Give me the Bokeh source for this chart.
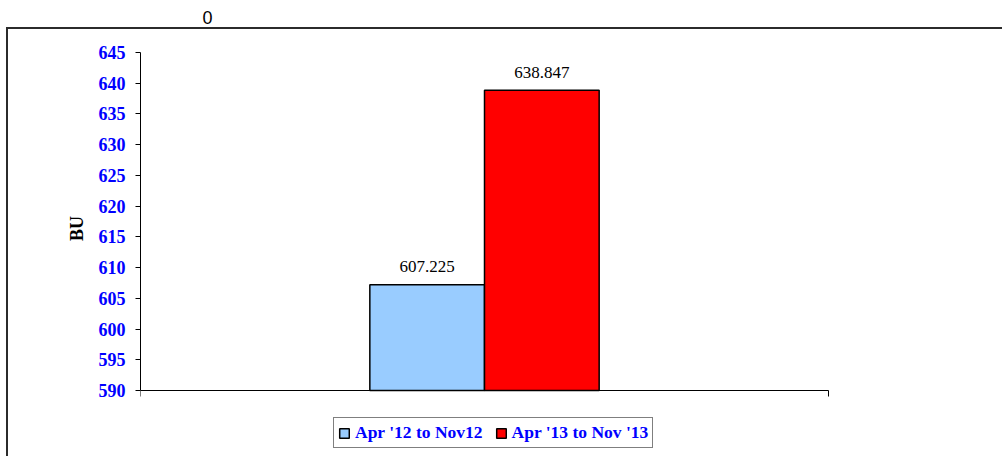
from bokeh.plotting import figure
from bokeh.models import ColumnDataSource, Range1d, FixedTicker, Legend, LegendItem, Label
from bokeh.embed import file_html
from bokeh.resources import INLINE

# data
series = ["Apr '12 to Nov12", "Apr '13 to Nov '13"]
values = [607.225, 638.847]
colors = ["#99CCFF", "#FF0000"]
value_labels = ["607.225", "638.847"]
y_ticks = [590, 595, 600, 605, 610, 615, 620, 625, 630, 635, 640, 645]
y_title = "BU"
corner_text = "0"

# layout geometry (pixels)
W, H = 1002, 456
axis_left, axis_right = 140, 828        # x extent of the value axis
axis_top, axis_bottom = 52, 390          # y of the top / bottom tick

px_per_unit = (axis_bottom - axis_top) / (y_ticks[-1] - y_ticks[0])
y0 = y_ticks[0] - (H - axis_bottom) / px_per_unit
y1 = y_ticks[-1] + axis_top / px_per_unit
x1 = (W - axis_left) / (axis_right - axis_left)

bar_w = 1 / 6
xs = [0.5 + (i - (len(series) - 1) / 2) * bar_w for i in range(len(series))]

src = ColumnDataSource(dict(x=xs, top=values, color=colors, name=series, lab=value_labels))

p = figure(width=W, height=H, output_backend="svg", toolbar_location=None,
           x_range=Range1d(0, x1), y_range=Range1d(y0, y1),
           min_border_left=axis_left, min_border_right=0, min_border_top=0, min_border_bottom=0)
p.outline_line_color = None
p.xgrid.visible = False
p.ygrid.visible = False
p.border_fill_color = None
p.background_fill_color = None
p.styles = {
    "background": ("linear-gradient(#2b2b2b,#2b2b2b) 6px 27px / 3000px 2px no-repeat, "
                   "linear-gradient(#2b2b2b,#2b2b2b) 6px 27px / 2px 3000px no-repeat, white"),
}

r = p.vbar(x="x", top="top", bottom=y_ticks[0], width=bar_w, fill_color="color",
           line_color="black", line_width=1.5, source=src)

p.text(x="x", y="top", text="lab", source=src, text_align="center", text_baseline="alphabetic",
       y_offset=-18, text_font="Liberation Serif", text_font_size="17px", text_color="black")

serif = "Liberation Serif"
ya = p.yaxis[0]
ya.ticker = FixedTicker(ticks=y_ticks)
ya.bounds = (y_ticks[0], y_ticks[-1])
ya.major_tick_out = 5
ya.major_tick_in = 0
ya.minor_tick_line_color = None
ya.major_label_standoff = 10
ya.major_label_text_font = serif
ya.major_label_text_font_style = "bold"
ya.major_label_text_font_size = "18px"
ya.major_label_text_color = "#0000FF"
ya.axis_label = y_title
ya.axis_label_text_font = serif
ya.axis_label_text_font_style = "bold"
ya.axis_label_text_font_size = "18px"
ya.axis_label_text_color = "black"
ya.axis_label_standoff = 9
ya.axis_line_color = "black"
ya.major_tick_line_color = "black"

xa = p.xaxis[0]
xa.ticker = FixedTicker(ticks=[0, 1])
xa.bounds = (0, 1)
xa.fixed_location = y_ticks[0]
xa.major_tick_out = 6
xa.major_tick_in = 0
xa.minor_tick_line_color = None
xa.major_label_overrides = {0: "", 1: ""}
xa.axis_line_color = "black"
xa.major_tick_line_color = "black"

items = [LegendItem(label=series[i], renderers=[r], index=i) for i in range(len(series))]
lg = Legend(items=items, orientation="horizontal", location=(333 - axis_left, H - 448))
lg.padding = 4
lg.margin = 0
lg.spacing = 12
lg.label_standoff = 5
lg.glyph_width = 12
lg.glyph_height = 12
lg.label_height = 16
lg.label_text_font = serif
lg.label_text_font_style = "bold"
lg.label_text_font_size = "17.5px"
lg.label_text_color = "#0000FF"
lg.border_line_color = "black"
lg.border_line_width = 1.5
lg.background_fill_color = "white"
p.add_layout(lg)

p.add_layout(Label(x=207 - axis_left, y=H - 17, x_units="screen", y_units="screen",
                   text=corner_text, text_align="center", text_baseline="alphabetic",
                   text_font="Liberation Sans", text_font_size="18px", text_color="black"))

open("out.html", "w").write(file_html(p, INLINE))
